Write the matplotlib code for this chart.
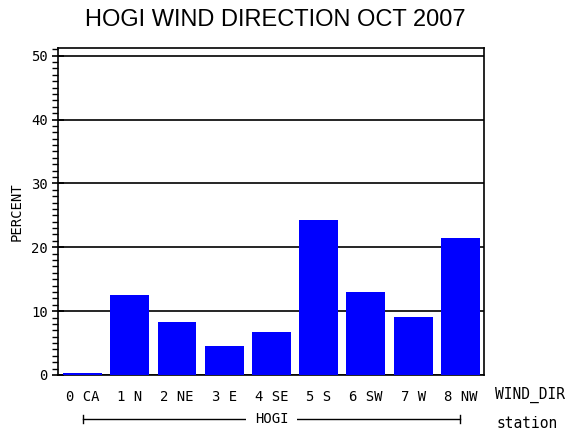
import matplotlib
matplotlib.use("Agg")
import matplotlib.pyplot as plt
import matplotlib.transforms as mtransforms
from matplotlib.ticker import MultipleLocator

# wind direction categories and percent of hours
labels = ["0 CA", "1 N", "2 NE", "3 E", "4 SE", "5 S", "6 SW", "7 W", "8 NW"]
percent = [0.3, 12.6, 8.3, 4.55, 6.75, 24.2, 13.0, 9.1, 21.4]
station = "HOGI"

mono = "DejaVu Sans Mono"

fig = plt.figure(figsize=(5.7, 4.3), dpi=100)
ax = fig.add_axes([58 / 570, 1 - 375 / 430, 426 / 570, 327 / 430])

pos = list(range(len(labels)))
ax.bar(pos, percent, width=0.825, color="#0000ff", zorder=3)

ax.set_xlim(-0.52, 8.5)
ax.set_ylim(0, 51.2)
ax.yaxis.set_major_locator(MultipleLocator(10))
ax.yaxis.set_minor_locator(MultipleLocator(1))
ax.grid(axis="y", color="black", linewidth=1.2, zorder=1)
for s in ax.spines.values():
    s.set_linewidth(1.2)

ax.set_xticks(pos, labels, fontfamily=mono, fontsize=10)
ax.tick_params(axis="x", length=0, pad=11)
ax.tick_params(axis="y", which="major", direction="inout", length=9, width=1.2,
               labelsize=10, pad=3)
ax.tick_params(axis="y", which="minor", direction="out", length=4, width=1)
for t in ax.get_yticklabels():
    t.set_fontfamily(mono)

fig.text(17 / 570, 1 - 212 / 430, "PERCENT", fontfamily=mono, fontsize=10,
         rotation=90, ha="center", va="center")

fig.text(495 / 570, 1 - 395 / 430, "WIND_DIR", fontfamily=mono, fontsize=10.5,
         ha="left", va="center")
fig.text(497 / 570, 1 - 424 / 430, "station", fontfamily=mono, fontsize=10.5,
         ha="left", va="center")

# station bracket under the tick labels
trans = mtransforms.blended_transform_factory(ax.transData, fig.transFigure)
yb = 1 - 419 / 430
ax.plot([pos[0], pos[-1]], [yb, yb], color="black", lw=1, transform=trans,
        clip_on=False)
for xe in (pos[0], pos[-1]):
    ax.plot([xe, xe], [yb - 0.01, yb + 0.01], color="black", lw=1,
            transform=trans, clip_on=False)
ax.text((pos[0] + pos[-1]) / 2, yb, station, transform=trans, ha="center",
        va="center", fontfamily=mono, fontsize=10,
        bbox=dict(facecolor="white", edgecolor="none", pad=6))

fig.text(275.5 / 570, 1 - 20 / 430, "HOGI WIND DIRECTION OCT 2007",
         fontfamily="Liberation Sans", fontsize=17, ha="center", va="center")

fig.savefig("out.png", dpi=100)
